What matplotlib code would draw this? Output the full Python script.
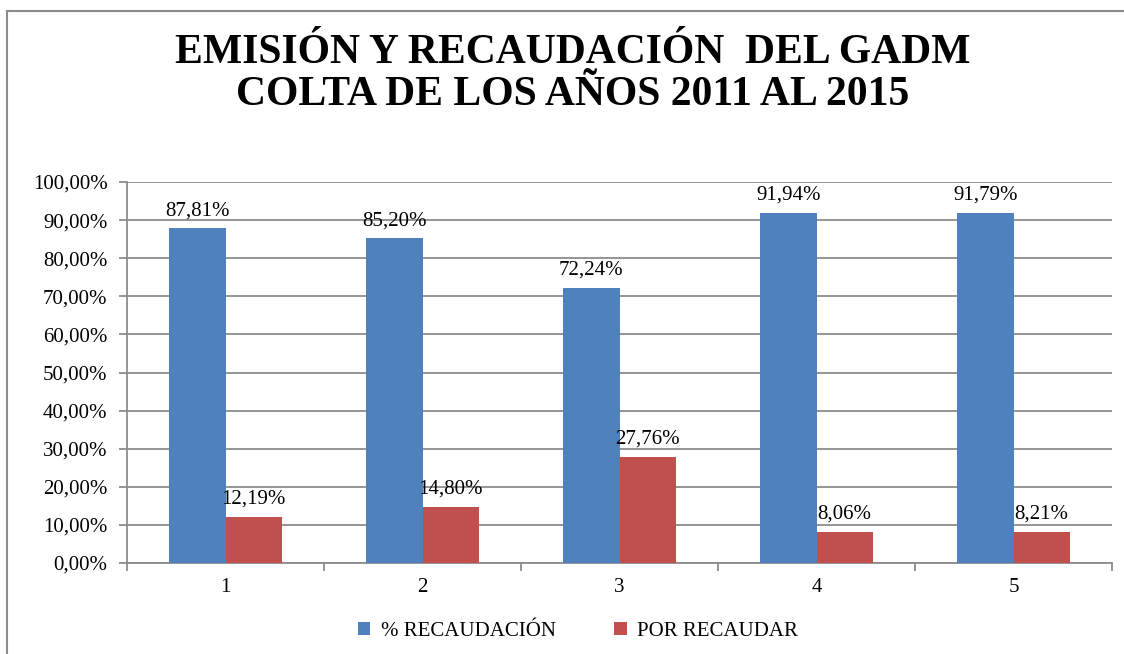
import matplotlib
matplotlib.use("Agg")
import matplotlib.pyplot as plt
from matplotlib.lines import Line2D
import numpy as np

categories = ["1", "2", "3", "4", "5"]
recaudacion = [87.81, 85.20, 72.24, 91.94, 91.79]
por_recaudar = [12.19, 14.80, 27.76, 8.06, 8.21]
series_names = ["% RECAUDACIÓN", "POR RECAUDAR"]
title = "EMISIÓN Y RECAUDACIÓN  DEL GADM\nCOLTA DE LOS AÑOS 2011 AL 2015"
yticks = [0, 10, 20, 30, 40, 50, 60, 70, 80, 90, 100]

def fmt(v):
    return f"{v:.2f}".replace(".", ",") + "%"

plt.rcParams['font.family'] = ['Liberation Serif', 'DejaVu Serif']
FS = 15

fig = plt.figure(figsize=(11.24, 6.54), dpi=100)
# chart frame (left and top edges visible)
fig.add_artist(Line2D([7/1124, 7/1124], [0, 1 - 11/654], transform=fig.transFigure,
                      color='#8c8c8c', linewidth=1.5))
fig.add_artist(Line2D([7/1124, 1], [1 - 11/654, 1 - 11/654], transform=fig.transFigure,
                      color='#8c8c8c', linewidth=1.5))

ax = fig.add_axes([127/1124, 1 - 563/654, (1112 - 127)/1124, (563 - 182)/654])
x = np.arange(len(categories))
w = 0.285
blue = '#4F81BD'
red = '#C0504D'
b1 = ax.bar(x - w/2, recaudacion, w, color=blue, label=series_names[0], zorder=3)
b2 = ax.bar(x + w/2, por_recaudar, w, color=red, label=series_names[1], zorder=3)

for rect, v in zip(b1, recaudacion):
    ax.annotate(fmt(v), (rect.get_x() + rect.get_width()/2, v), xytext=(0, 6),
                textcoords='offset points', ha='center', va='bottom', fontsize=FS)
for rect, v in zip(b2, por_recaudar):
    ax.annotate(fmt(v), (rect.get_x() + rect.get_width()/2, v), xytext=(0, 6),
                textcoords='offset points', ha='center', va='bottom', fontsize=FS)

ax.set_xlim(-0.5, len(categories) - 0.5)
ax.set_ylim(0, 100)
ax.set_yticks(yticks)
ax.set_yticklabels([fmt(v) for v in yticks], fontsize=FS)
ax.yaxis.grid(True, color='#8c8c8c', linewidth=1.3, zorder=0)
ax.set_axisbelow(True)
ax.tick_params(axis='y', length=6, color='#8c8c8c', width=1.3, pad=8)

ax.set_xticks(np.arange(-0.5, len(categories) + 0.5, 1.0))
ax.set_xticklabels([])
ax.set_xticks(x, minor=True)
ax.set_xticklabels(categories, minor=True, fontsize=FS)
ax.tick_params(axis='x', which='major', length=6, color='#8c8c8c', width=1.3, direction='out')
ax.tick_params(axis='x', which='minor', length=0, pad=11)

for s in ['top', 'right']:
    ax.spines[s].set_visible(False)
for s in ['left', 'bottom']:
    ax.spines[s].set_color('#8c8c8c')
    ax.spines[s].set_linewidth(1.3)

fig.text(573/1124, 1 - 74/654, title, ha='center', va='center', fontsize=30,
         fontweight='bold', linespacing=1.15)

fig.legend(handles=[b1, b2], labels=series_names, loc='center', bbox_to_anchor=(578/1124, 1 - 631/654),
           ncol=2, frameon=False, fontsize=FS, handlelength=0.6, handleheight=0.6,
           handletextpad=0.5, columnspacing=2.8)

fig.savefig("out.png", dpi=100)
